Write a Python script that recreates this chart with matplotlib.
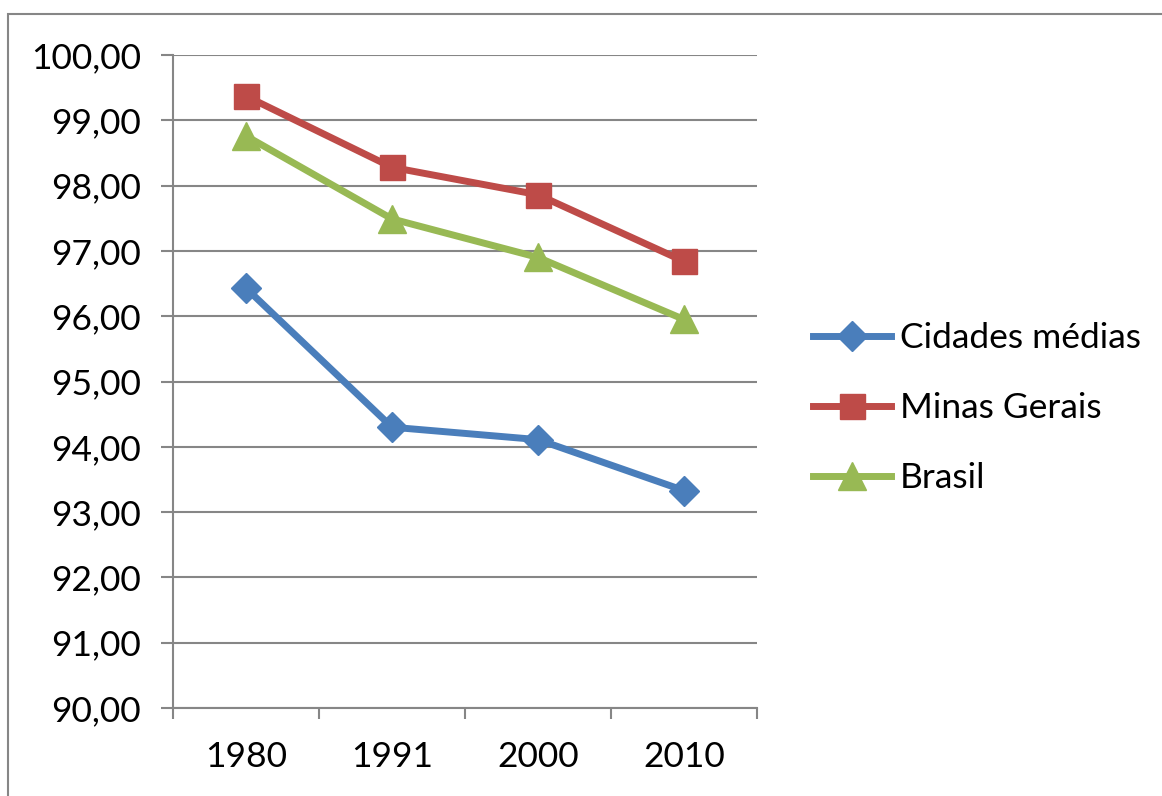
import matplotlib
matplotlib.use("Agg")
import matplotlib.pyplot as plt
from matplotlib.patches import Rectangle
from matplotlib.ticker import FixedLocator, FuncFormatter

years = ["1980", "1991", "2000", "2010"]
cidades_medias = [96.43, 94.30, 94.11, 93.33]
minas_gerais = [99.37, 98.28, 97.86, 96.84]
brasil = [98.76, 97.49, 96.90, 95.95]
series_names = ["Cidades médias", "Minas Gerais", "Brasil"]

plt.rcParams['font.family'] = ['Lato', 'DejaVu Sans']
FS = 25.5

W, H = 1162, 796
fig = plt.figure(figsize=(W / 100, H / 100), dpi=100)
fig.patches.append(Rectangle((8 / W, -0.1), 1.2, 1 - 14 / H + 0.1, transform=fig.transFigure,
                             fill=False, edgecolor='#868686', linewidth=1.5))

ax = fig.add_axes([173 / W, 1 - 708 / H, (757 - 173) / W, (708 - 55) / H])
x = list(range(len(years)))
ax.plot(x, cidades_medias, color='#4A7EBB', lw=5, marker='D', ms=15, label=series_names[0])
ax.plot(x, minas_gerais, color='#BE4B48', lw=5, marker='s', ms=18, label=series_names[1])
ax.plot(x, brasil, color='#98B954', lw=5, marker='^', ms=20, label=series_names[2])

ax.set_xlim(-0.5, len(years) - 0.5)
ax.set_ylim(90, 100)
ax.set_yticks([90 + i for i in range(11)])
ax.yaxis.set_major_formatter(FuncFormatter(lambda v, p: f"{v:.2f}".replace('.', ',')))
ax.set_xticks(x)
ax.set_xticklabels(years)
ax.xaxis.set_minor_locator(FixedLocator([i - 0.5 for i in range(len(years) + 1)]))
ax.tick_params(axis='x', which='major', length=0, pad=24, labelsize=FS)
ax.tick_params(axis='x', which='minor', length=8, width=1.5, color='#868686', direction='out')
ax.tick_params(axis='y', length=9, width=1.5, color='#868686', pad=14, labelsize=FS)
ax.grid(axis='y', color='#868686', lw=1.5)
ax.set_axisbelow(True)
for s in ['top', 'right']:
    ax.spines[s].set_visible(False)
for s in ['left', 'bottom']:
    ax.spines[s].set_color('#868686')
    ax.spines[s].set_linewidth(1.5)

leg = fig.legend(loc='center left', bbox_to_anchor=(813 / W, 1 - 408 / H), frameon=False,
                 fontsize=FS, handlelength=2.2, labelspacing=1.07, handletextpad=0.25,
                 borderpad=0, borderaxespad=0)

fig.savefig('out.png', dpi=100)
